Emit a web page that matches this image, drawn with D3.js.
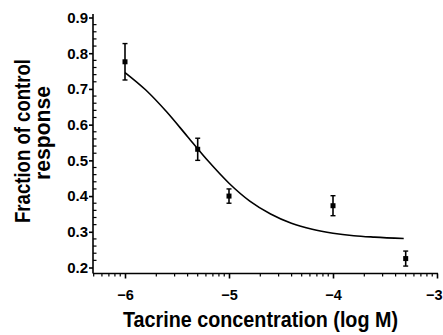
<!DOCTYPE html>
<html>
<head>
<meta charset="utf-8">
<script src="https://cdn.jsdelivr.net/npm/d3@7"></script>
<style>
  html, body { margin: 0; padding: 0; background: #fff; }
  svg { display: block; }
  text { font-family: "Liberation Sans", Arial, sans-serif; fill: #000; }
</style>
</head>
<body>
<svg id="chart" width="443" height="335"></svg>
<script>
// ---- data ----
const concLog = [-6, -5.301, -5, -4, -3.301];          // log M
const meanResp = [0.776, 0.531, 0.400, 0.373, 0.225]; // fraction of control
const semResp = [0.051, 0.031, 0.020, 0.028, 0.021];

const curveX = [-6, -5.8, -5.6, -5.4, -5.2, -5.0, -4.8, -4.6, -4.4, -4.2, -4.0, -3.8, -3.6, -3.32];
const curveY = [0.746, 0.697, 0.636, 0.567, 0.498, 0.436, 0.386, 0.350, 0.324, 0.307, 0.296, 0.289, 0.285, 0.281];

const xTickValues = [-6, -5, -4, -3];
const yTickValues = [0.2, 0.3, 0.4, 0.5, 0.6, 0.7, 0.8, 0.9];
const xTitle = "Tacrine concentration (log M)";
const yTitleLines = ["Fraction of control", "response"];

// ---- layout ----
const svg = d3.select("#chart");
const x = d3.scaleLinear().domain([-6, -3]).range([125, 437]);
const y = d3.scaleLinear().domain([0.2, 0.9]).range([267.5, 17.5]);
const xMin = x.invert(93), yMin = y.invert(273.5), yMax = y.invert(14);

const g = svg.append("g");

// minor tick values
const xMinor = [];
[-7, -6, -5, -4].forEach(d => { for (let k = 2; k <= 9; k++) { const v = d + Math.log10(k); if (v >= xMin && v <= -3) xMinor.push(v); } });
const yMinor = d3.range(5, 46).map(i => +(i * 0.02).toFixed(2)).filter(v => v >= yMin && v <= yMax && Math.abs(v * 10 - Math.round(v * 10)) > 1e-6);

// x axis
const xAxisG = g.append("g").attr("transform", `translate(0,${y(yMin)})`);
xAxisG.append("line").attr("x1", 93).attr("x2", x(-3) + 1).attr("y1", 0).attr("y2", 0)
  .attr("stroke", "#000").attr("stroke-width", 1.6);
xAxisG.selectAll("line.minor").data(xMinor).join("line").attr("class", "minor")
  .attr("x1", d => x(d)).attr("x2", d => x(d)).attr("y1", 0).attr("y2", 3)
  .attr("stroke", "#000").attr("stroke-width", 1.2);
xAxisG.call(d3.axisBottom(x).tickValues(xTickValues).tickFormat(d3.format("d")).tickSize(5).tickPadding(11))
  .call(a => a.select(".domain").remove())
  .call(a => a.selectAll(".tick line").attr("stroke-width", 1.6))
  .call(a => a.selectAll(".tick text").attr("font-size", 14.5).attr("font-weight", "bold")
      .attr("font-family", "Liberation Sans, Arial, sans-serif").attr("fill", "#000"))
  .call(a => a.selectAll(".tick text").filter(d => d === -3).attr("text-anchor", "end").attr("dx", 5));

// y axis
const yAxisG = g.append("g").attr("transform", `translate(93,0)`);
yAxisG.append("line").attr("x1", 0).attr("x2", 0).attr("y1", y(yMax)).attr("y2", y(yMin))
  .attr("stroke", "#000").attr("stroke-width", 1.6);
yAxisG.selectAll("line.minor").data(yMinor).join("line").attr("class", "minor")
  .attr("x1", 0).attr("x2", 3.5).attr("y1", d => y(d)).attr("y2", d => y(d))
  .attr("stroke", "#000").attr("stroke-width", 1.2);
yAxisG.call(d3.axisLeft(y).tickValues(yTickValues).tickFormat(d3.format(".1f")).tickSize(4).tickPadding(1))
  .call(a => a.select(".domain").remove())
  .call(a => a.selectAll(".tick line").attr("stroke-width", 1.6))
  .call(a => a.selectAll(".tick text").attr("font-size", 15).attr("font-weight", "bold")
      .attr("font-family", "Liberation Sans, Arial, sans-serif").attr("fill", "#000"));

// fitted curve
const curvePts = curveX.map((v, i) => [v, curveY[i]]);
g.append("path").datum(curvePts)
  .attr("fill", "none").attr("stroke", "#000").attr("stroke-width", 1.6)
  .attr("d", d3.line().x(d => x(d[0])).y(d => y(d[1])).curve(d3.curveMonotoneX));

// error bars and markers
const pts = concLog.map((v, i) => ({ x: v, m: meanResp[i], e: semResp[i] }));
const eb = g.append("g").selectAll("g").data(pts).join("g");
eb.append("line").attr("x1", d => x(d.x)).attr("x2", d => x(d.x))
  .attr("y1", d => y(d.m + d.e)).attr("y2", d => y(d.m - d.e))
  .attr("stroke", "#000").attr("stroke-width", 1.6);
[1, -1].forEach(s => {
  eb.append("line").attr("x1", d => x(d.x) - 2.5).attr("x2", d => x(d.x) + 2.5)
    .attr("y1", d => y(d.m + s * d.e)).attr("y2", d => y(d.m + s * d.e))
    .attr("stroke", "#000").attr("stroke-width", 1.4);
});
eb.append("rect").attr("x", d => x(d.x) - 2.5).attr("y", d => y(d.m) - 2.5)
  .attr("width", 5).attr("height", 5).attr("fill", "#000");

// titles
svg.append("text").attr("x", 260.5).attr("y", 327).attr("text-anchor", "middle")
  .attr("font-size", 22).attr("font-weight", "bold")
  .attr("textLength", 275).attr("lengthAdjust", "spacingAndGlyphs").text(xTitle);

svg.append("text").attr("transform", "translate(30,141) rotate(-90)").attr("text-anchor", "middle")
  .attr("font-size", 22).attr("font-weight", "bold")
  .attr("textLength", 164).attr("lengthAdjust", "spacingAndGlyphs").text(yTitleLines[0]);
svg.append("text").attr("transform", "translate(50,133) rotate(-90)").attr("text-anchor", "middle")
  .attr("font-size", 22).attr("font-weight", "bold")
  .attr("textLength", 94).attr("lengthAdjust", "spacingAndGlyphs").text(yTitleLines[1]);
</script>
</body>
</html>
